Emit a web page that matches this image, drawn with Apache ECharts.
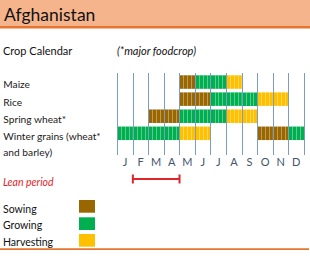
<!DOCTYPE html>
<html><head><meta charset="utf-8">
<script src="https://cdn.jsdelivr.net/npm/echarts@6/dist/echarts.min.js"></script>
<style>html,body{margin:0;padding:0;background:#fff}#c{width:310px;height:268px}</style>
</head><body><div id="c"></div>
<script>
const months = ['J','F','M','A','M','J','J','A','S','O','N','D'];
const crops = ['Maize','Rice','Spring wheat*','Winter grains (wheat*\nand barley)'];
const stages = ['Sowing','Growing','Harvesting'];
// stage per month: 0 none, 1 sowing, 2 growing, 3 harvesting
const maize        = [0,0,0,0,1,2,2,3,0,0,0,0];
const rice         = [0,0,0,0,1,1,2,2,2,3,3,0];
const springWheat  = [0,0,1,1,2,2,2,3,3,0,0,0];
const winterGrains = [2,2,2,2,3,3,0,0,0,1,1,2];
const leanPeriod = [1, 4]; // from start of Feb to end of Apr

const stageColors = ['#996600','#00B050','#FFC000'];
const font = 'Lato, "Open Sans", sans-serif';

const rows = [maize, rice, springWheat, winterGrains];
const cells = [];
rows.forEach((arr, r) => arr.forEach((s, m) => { if (s) cells.push([m, r, s]); }));

const chart = echarts.init(document.getElementById('c'), null, {renderer:'svg'});
const ROWH = 0.79;
chart.setOption({
  animation:false,
  grid:{left:117.3, right:6, top:73, bottom:113},
  xAxis:[
    {type:'value', min:0, max:12, interval:1, z:10,
     axisLine:{show:false}, axisTick:{show:false}, axisLabel:{show:false},
     splitLine:{show:true, lineStyle:{color:'#7A9CC6', width:1}}},
    {type:'category', data:months, position:'bottom', boundaryGap:true,
     axisLine:{show:false}, axisTick:{show:false},
     axisLabel:{color:'#44546A', fontFamily:font, fontSize:11, margin:1, interval:0}}
  ],
  yAxis:{type:'value', min:-0.53, max:4.27, inverse:true,
    axisLine:{show:false}, axisTick:{show:false}, splitLine:{show:false},
    axisLabel:{customValues:[-0.33,0.67,1.67,2.67], formatter:v=>crops[Math.round(v+0.33)],
      align:'left', verticalAlign:'top', margin:114, lineHeight:16,
      color:'#1a1a1a', fontFamily:font, fontSize:10.2}},
  graphic:[
    {type:'rect', shape:{x:0,y:0,width:310,height:26}, style:{fill:'#F6B48D'}, z:1},
    {type:'rect', shape:{x:0,y:26,width:310,height:2.5}, style:{fill:'#E8752F'}, z:1},
    {type:'text', x:4, y:14, style:{text:'Afghanistan', fill:'#111', font:'17.5px '+font, verticalAlign:'middle'}, z:2},
    {type:'text', x:3, y:50, style:{text:'Crop Calendar', fill:'#111', font:'11px '+font, verticalAlign:'middle'}},
    {type:'text', x:117, y:50, style:{text:'(*major foodcrop)', fill:'#111', font:'italic 11px '+font, verticalAlign:'middle'}},
    {type:'text', x:3, y:181.5, style:{text:'Lean period', fill:'#E0242A', font:'italic 10.5px '+font, verticalAlign:'middle'}},
    {type:'text', x:3, y:209, style:{text:stages[0], fill:'#111', font:'10.5px '+font, verticalAlign:'middle'}},
    {type:'text', x:3, y:225, style:{text:stages[1], fill:'#111', font:'10.5px '+font, verticalAlign:'middle'}},
    {type:'text', x:3, y:241.5, style:{text:stages[2], fill:'#111', font:'10.5px '+font, verticalAlign:'middle'}},
    {type:'rect', shape:{x:79,y:200,width:16,height:12.7}, style:{fill:stageColors[0]}},
    {type:'rect', shape:{x:79,y:217.3,width:16,height:12.7}, style:{fill:stageColors[1]}},
    {type:'rect', shape:{x:79,y:234,width:16,height:12.7}, style:{fill:stageColors[2]}},
    {type:'rect', shape:{x:0,y:248.3,width:309,height:1.6}, style:{fill:'#E8752F'}}
  ],
  series:[
    {type:'custom', xAxisIndex:0, z:2, data:cells,
     renderItem:(params, api) => {
       const m = api.value(0), r = api.value(1), s = api.value(2);
       const p0 = api.coord([m, r - ROWH/2]);
       const p1 = api.coord([m + 1, r + ROWH/2]);
       const w = p1[0]-p0[0], h = p1[1]-p0[1];
       const children = [{type:'rect', shape:{x:p0[0], y:p0[1], width:w, height:h}, style:{fill:stageColors[s-1]}}];
       for (let k = 1; k < 4; k++) {
         const x = Math.round(p0[0] + w*k/4) + 0.5;
         children.push({type:'line', shape:{x1:x, y1:p0[1], x2:x, y2:p1[1]}, style:{stroke:'rgba(255,255,255,0.35)', lineWidth:1}});
       }
       return {type:'group', children};
     }},
    {type:'custom', xAxisIndex:0, z:3, data:[leanPeriod],
     renderItem:(params, api) => {
       const x0 = api.coord([api.value(0), 0])[0];
       const x1 = api.coord([api.value(1), 0])[0];
       const y = 179;
       const st = {stroke:'#E0242A', lineWidth:2};
       return {type:'group', children:[
         {type:'line', shape:{x1:x0, y1:y, x2:x1, y2:y}, style:st},
         {type:'line', shape:{x1:x0, y1:y-4.5, x2:x0, y2:y+4.5}, style:st},
         {type:'line', shape:{x1:x1, y1:y-4.5, x2:x1, y2:y+4.5}, style:st}
       ]};
     }}
  ]
});
</script></body></html>
